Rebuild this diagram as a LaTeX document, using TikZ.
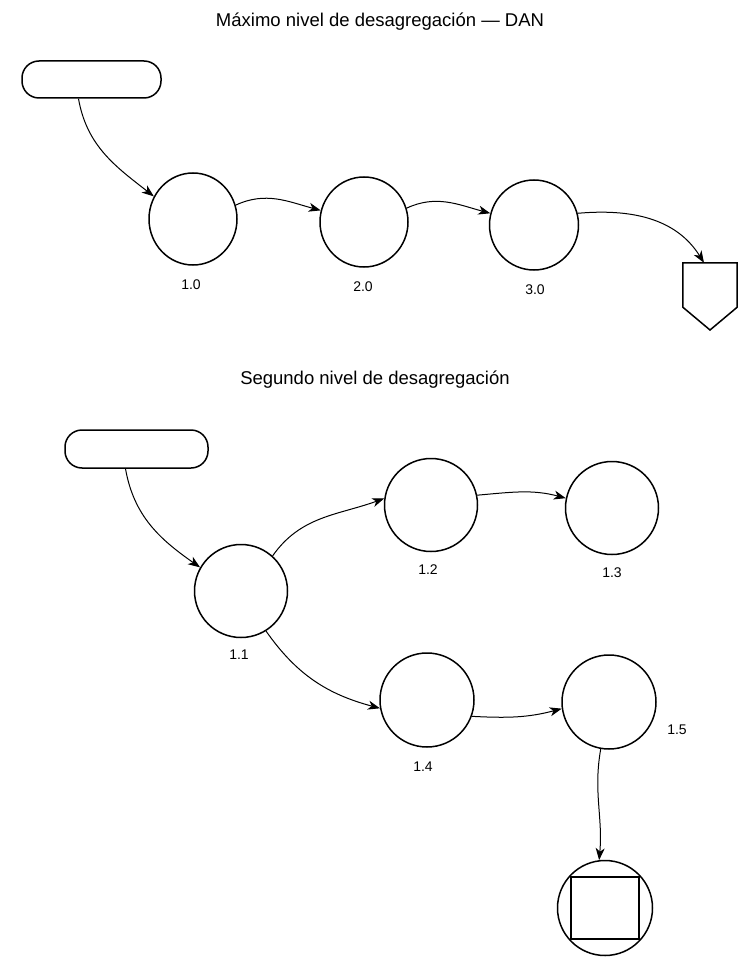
\documentclass[tikz,border=0pt]{standalone}
\usepackage{fontspec}
\setmainfont{Liberation Sans}
\usetikzlibrary{shapes.geometric,arrows.meta,calc}
\begin{document}
\begin{tikzpicture}[x=1pt,y=-1pt,
  proc/.style={draw,line width=1.5pt,ellipse,inner sep=0pt,minimum width=#1,minimum height=#1},
  ext/.style={draw,line width=1.5pt,rounded corners=17pt,inner sep=0pt,minimum width=139pt,minimum height=37pt},
  flow/.style={line width=1pt,-{Stealth[length=12pt,width=9pt,inset=3.5pt]}},
  lbl/.style={font=\fontsize{14}{16}\selectfont,inner sep=0pt},
  ttl/.style={font=\fontsize{18.5}{22}\selectfont,inner sep=0pt}]
\useasboundingbox (0,0) rectangle (738,976);
\fill[white] (0,0) rectangle (738,976);
% ---- Top level
\node[ttl] (t1) at (380,22) {Máximo nivel de desagregación — DAN};
\node[ext] (r1) at (91.5,79.5) {};
\node[proc=90pt,minimum width=88pt,minimum height=92pt] (c10) at (193,219) {};
\node[proc=90pt,minimum width=88pt,minimum height=90pt] (c20) at (364,222) {};
\node[proc=90pt,minimum width=89pt,minimum height=90pt] (c30) at (534,225) {};
\node[lbl] (l10) at (191,285) {1.0};
\node[lbl] (l20) at (363,287) {2.0};
\node[lbl] (l30) at (535,290) {3.0};
\node[inner sep=0pt,minimum width=54pt,minimum height=44pt] (sh) at (710,285) {};
\coordinate (shtip) at (710,330);
\draw[line width=1.5pt,line join=miter] (sh.south west) -- (sh.north west) -- (sh.north east) -- (sh.south east) -- (shtip) -- cycle;
\draw[flow] ($(r1.south)+(-13,0)$) to[out=-80,in=142] (c10.150);
\draw[flow] (c10.18) to[out=25,in=165] (c20.165);
\draw[flow] (c20.18) to[out=25,in=165] (c30.165);
\draw[flow] (c30.15) to[out=5,in=122] ($(sh.north)+(-6,0)$);
% ---- Second level
\node[ttl] (t2) at (375,380) {Segundo nivel de desagregación};
\node[ext,minimum width=143pt,minimum height=38pt] (r2) at (136.5,449) {};
\node[proc=93pt] (c11) at (241,591) {};
\node[proc=93pt] (c12) at (431,505) {};
\node[proc=93pt] (c13) at (612,508) {};
\node[proc=94pt] (c14) at (427,700) {};
\node[proc=94pt] (c15) at (609,702) {};
\node[lbl] (l11) at (239,655) {1.1};
\node[lbl] (l12) at (428,570) {1.2};
\node[lbl] (l13) at (612,573) {1.3};
\node[lbl] (l14) at (423,767) {1.4};
\node[lbl] (l15) at (677,730) {1.5};
\node[draw,circle,line width=1.5pt,minimum size=95pt,inner sep=0pt] (cend) at (605,908) {};
\node[draw,line width=1.5pt,minimum width=68pt,minimum height=62pt,inner sep=0pt] (sq) at (605,908) {};
\draw[flow] ($(r2.south)+(-11,0)$) to[out=-80,in=145] (c11.150);
\draw[flow] (c11.48) to[out=55,in=200] (c12.172);
\draw[flow] (c12.12) to[out=5,in=165] (c13.168);
\draw[flow] (c11.-58) to[out=-55,in=165] (c14.-170);
\draw[flow] (c14.-20) to[out=-3,in=195] (c15.-172);
\draw[flow] (c15.-100) to[out=-100,in=85] (cend.97);
\end{tikzpicture}
\end{document}
